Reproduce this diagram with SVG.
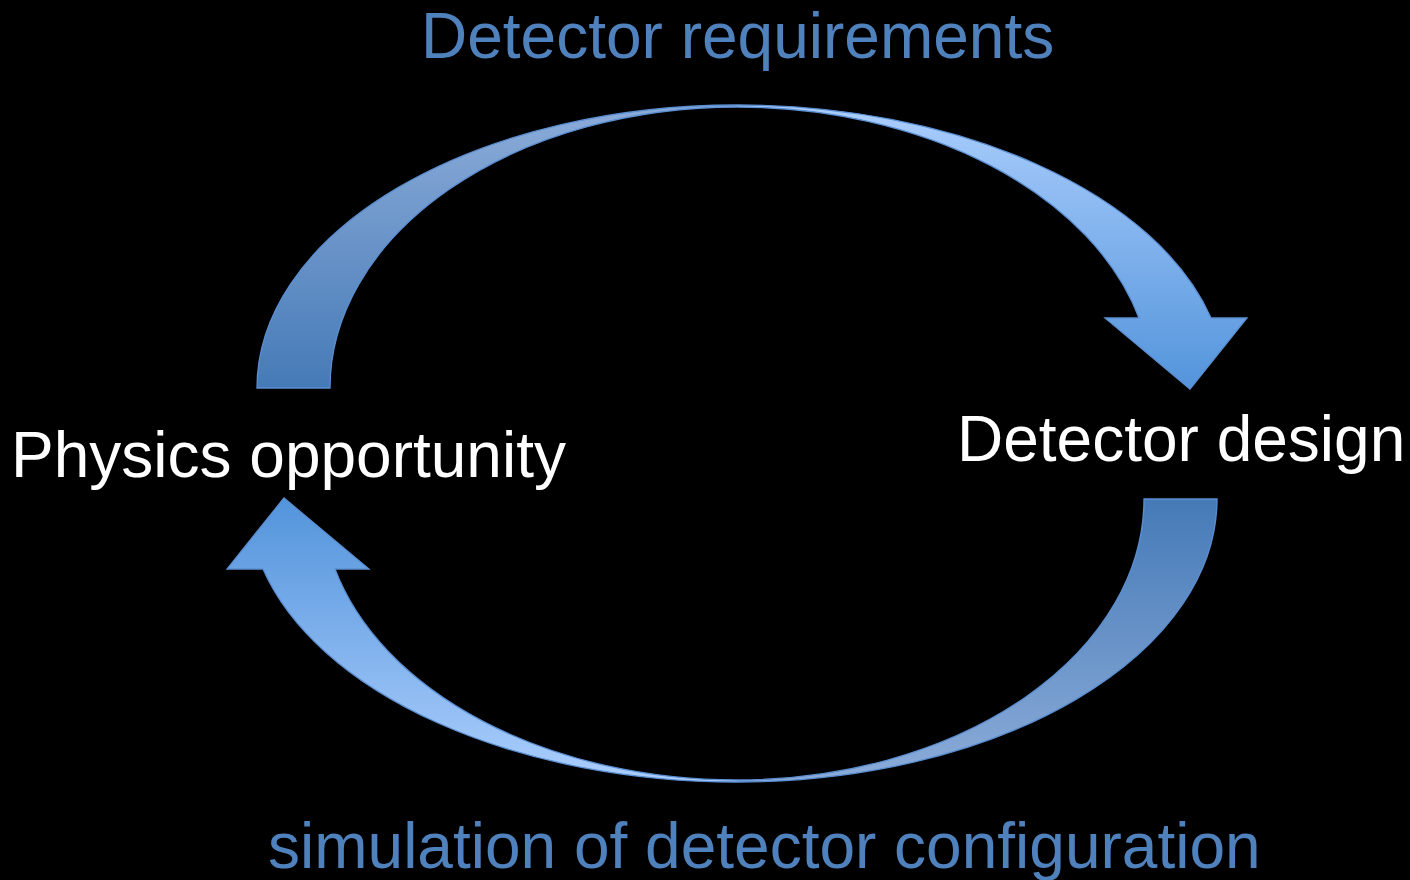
<svg xmlns="http://www.w3.org/2000/svg" xmlns:xlink="http://www.w3.org/1999/xlink" width="1410" height="880" viewBox="0 0 1410 880">
  <style>
    .label { font-family: "Liberation Sans", Arial, Helvetica, sans-serif; font-size: 64px; }
    .node-text { fill: #ffffff; }
    .edge-text { fill: #4f81bd; }
    .outline { fill: none; stroke: #5b8fd2; stroke-width: 1.3; stroke-linejoin: miter; }
  </style>
  <defs>
    <!-- lighter fill for the shaft and head -->
    <linearGradient id="shaftFill" gradientUnits="userSpaceOnUse" x1="0" y1="105" x2="0" y2="389">
      <stop offset="0" stop-color="#abcefd"/>
      <stop offset="1" stop-color="#5394db"/>
    </linearGradient>
    <!-- darker fill for the tail (back face of the curve) -->
    <linearGradient id="tailFill" gradientUnits="userSpaceOnUse" x1="0" y1="105" x2="0" y2="389">
      <stop offset="0" stop-color="#8cacd9"/>
      <stop offset="1" stop-color="#457ab7"/>
    </linearGradient>
    <!-- curved arrow: tail bottom-left, head bottom-right pointing down -->
    <g id="curved-arrow">
      <path fill="url(#tailFill)" d="M 257 388 A 480 283 0 0 1 737 105 L 737 107 A 407 281 0 0 0 330 388 Z"/>
      <path fill="url(#shaftFill)" d="M 737 105 A 489 283 0 0 1 1211 318 L 1247 318 L 1190 389 L 1105 318 L 1139 318 A 415 281 0 0 0 737 107 Z"/>
      <path class="outline" d="M 257 388 A 480 283 0 0 1 737 105 A 489 283 0 0 1 1211 318 L 1247 318 L 1190 389 L 1105 318 L 1139 318 A 415 281 0 0 0 737 107 A 407 281 0 0 0 330 388 Z"/>
    </g>
  </defs>

  <rect x="0" y="0" width="1410" height="880" fill="#000000"/>

  <g id="connectors">
    <g id="edge-requirements">
      <use xlink:href="#curved-arrow" href="#curved-arrow"/>
      <text class="label edge-text" x="421" y="58">Detector requirements</text>
    </g>
    <g id="edge-simulation">
      <use xlink:href="#curved-arrow" href="#curved-arrow" transform="rotate(180 737 443.5)"/>
      <text class="label edge-text" x="268" y="868">simulation of detector configuration</text>
    </g>
  </g>

  <g id="node-physics">
    <text class="label node-text" x="11" y="477">Physics opportunity</text>
  </g>
  <g id="node-design">
    <text class="label node-text" x="957" y="461">Detector design</text>
  </g>
</svg>
